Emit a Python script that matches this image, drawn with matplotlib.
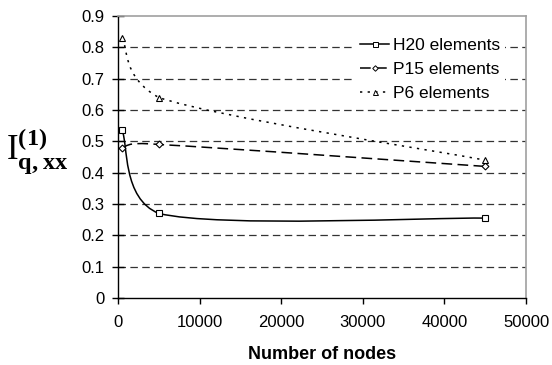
import numpy as np
import matplotlib
matplotlib.use('Agg')
import matplotlib.pyplot as plt
from matplotlib.path import Path
from matplotlib.patches import PathPatch
from matplotlib.lines import Line2D

# data
nodes = [500, 5000, 45000]
h20 = [0.535, 0.27, 0.255]
p15 = [0.48, 0.49, 0.42]
p6 = [0.83, 0.64, 0.44]
labels = ['H20 elements', 'P15 elements', 'P6 elements']
x_ticks = [0, 10000, 20000, 30000, 40000, 50000]
y_ticks = [0, 0.1, 0.2, 0.3, 0.4, 0.5, 0.6, 0.7, 0.8, 0.9]
y_ticklabels = ['0', '0.1', '0.2', '0.3', '0.4', '0.5', '0.6', '0.7', '0.8', '0.9']

plt.rcParams['font.family'] = ['Liberation Sans', 'DejaVu Sans']
plt.rcParams['mathtext.fontset'] = 'custom'
plt.rcParams['mathtext.rm'] = 'Liberation Serif'
plt.rcParams['mathtext.bf'] = 'Liberation Serif:bold'


def smooth_path(x, y):
    # excel-like smoothed line: cubic bezier through the points
    pts = np.column_stack([x, y]).astype(float)
    n = len(pts)
    verts = [pts[0]]
    codes = [Path.MOVETO]
    for i in range(n - 1):
        p_prev = pts[max(i - 1, 0)]
        p_next2 = pts[min(i + 2, n - 1)]
        c1 = pts[i] + (pts[i + 1] - p_prev) / 6
        c2 = pts[i + 1] - (p_next2 - pts[i]) / 6
        lo, hi = pts[i, 0], pts[i + 1, 0]
        c1[0] = np.clip(c1[0], lo, hi)
        c2[0] = np.clip(c2[0], lo, hi)
        verts += [c1, c2, pts[i + 1]]
        codes += [Path.CURVE4] * 3
    return Path(verts, codes)


fig = plt.figure(figsize=(5.52, 3.65), dpi=100)
ax = fig.add_axes([0.2138, 0.1836, 0.7392, 0.7724])

series = [
    (h20, '-', 's', 4.5),
    (p15, (0, (7, 3.5)), 'D', 3.5),
    (p6, (0, (1.5, 3.5)), '^', 4.5),
]
handles = []
for (vals, ls, mk, ms), lab in zip(series, labels):
    patch = PathPatch(smooth_path(nodes, vals), fill=False, edgecolor='black',
                      linewidth=1.1, linestyle=ls, zorder=3)
    ax.add_patch(patch)
    ax.plot(nodes, vals, linestyle='none', marker=mk, markersize=ms,
            markerfacecolor='white', markeredgecolor='black',
            markeredgewidth=0.8, zorder=4)
    handles.append(Line2D([], [], color='black', linewidth=1.1, linestyle=ls,
                          marker=mk, markersize=ms * 0.8,
                          markerfacecolor='white', markeredgecolor='black',
                          markeredgewidth=0.7))

ax.set_xlim(0, 50000)
ax.set_ylim(0, 0.9)
ax.set_xticks(x_ticks)
ax.set_xticklabels([str(t) for t in x_ticks])
ax.set_yticks(y_ticks)
ax.set_yticklabels(y_ticklabels)
ax.tick_params(axis='both', labelsize=12, colors='black')
ax.tick_params(axis='y', direction='inout', length=9, width=1, pad=5)
ax.tick_params(axis='x', direction='out', length=4.5, width=1, pad=8)

ax.yaxis.grid(True, color='#333333', linewidth=0.9, linestyle=(0, (6, 3.5)))
gl = ax.get_ygridlines()
gl[0].set_visible(False)
gl[-1].set_visible(False)
ax.set_axisbelow(True)

ax.spines['left'].set_linewidth(1)
ax.spines['bottom'].set_linewidth(1)
ax.spines['top'].set_color('#a0a0a0')
ax.spines['right'].set_color('#a0a0a0')
ax.spines['top'].set_linewidth(1.2)
ax.spines['right'].set_linewidth(1.2)

ax.set_xlabel('Number of nodes', fontsize=13, fontweight='bold', labelpad=11)
fig.text(0.01, 1 - 151 / 365, r'$\mathrm{I}_{\mathbf{q,xx}}^{\mathbf{(1)}}$',
         fontsize=25, ha='left', va='center')

leg = ax.legend(handles, labels, loc='upper right', bbox_to_anchor=(0.949, 0.94),
                fontsize=12.5, frameon=True, fancybox=False, framealpha=1,
                edgecolor='none', facecolor='white', handlelength=1.7,
                handletextpad=0.2, labelspacing=0.5, borderpad=0.3,
                borderaxespad=0)
leg.set_zorder(5)

fig.savefig('out.png', dpi=100)
